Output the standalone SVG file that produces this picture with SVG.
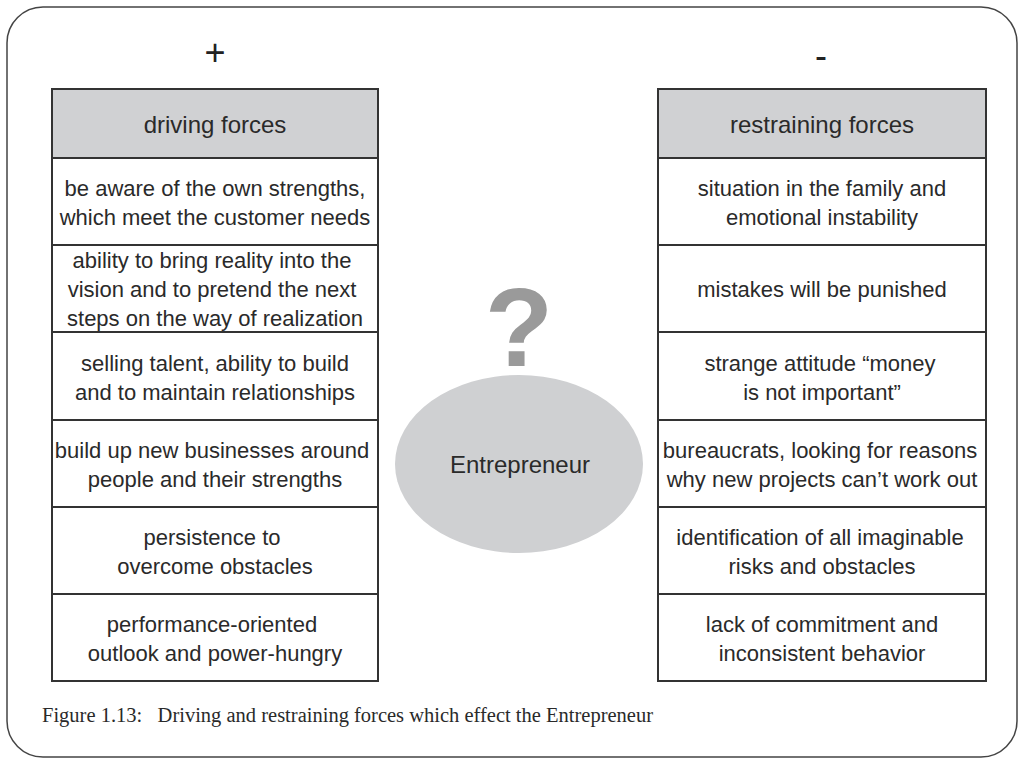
<svg xmlns="http://www.w3.org/2000/svg" width="1024" height="768" viewBox="0 0 1024 768">
<style>
.c{fill:#fff;stroke:#333;stroke-width:2}
.h{fill:#d0d1d3;stroke:#333;stroke-width:2}
text{font-family:"Liberation Sans Narrow","Liberation Sans",Arial,sans-serif;font-size:22px;fill:#2a2a2a;text-anchor:middle}
</style>
<rect x="0" y="0" width="1024" height="768" fill="#fff"/>
<rect x="7" y="7" width="1010" height="750" rx="36" fill="#fff" stroke="#444" stroke-width="1.5"/>
<text x="215" y="65" style="font-size:36px;fill:#222">+</text>
<text x="821" y="68" style="font-size:36px;fill:#222">-</text>
<g id="left">
<rect class="h" x="52" y="89" width="326" height="69"/><text x="215" y="133" style="font-size:24px">driving forces</text>
<rect class="c" x="52" y="158" width="326" height="87"/><text x="215" y="196">be aware of the own strengths,</text><text x="215" y="225">which meet the customer needs</text>
<rect class="c" x="52" y="245" width="326" height="87"/><text x="212" y="268">ability to bring reality into the</text><text x="212" y="297">vision and to pretend the next</text><text x="215" y="326">steps on the way of realization</text>
<rect class="c" x="52" y="332" width="326" height="88"/><text x="215" y="371">selling talent, ability to build</text><text x="215" y="400">and to maintain relationships</text>
<rect class="c" x="52" y="420" width="326" height="87"/><text x="212" y="458">build up new businesses around</text><text x="215" y="487">people and their strengths</text>
<rect class="c" x="52" y="507" width="326" height="87"/><text x="212" y="545">persistence to</text><text x="215" y="574">overcome obstacles</text>
<rect class="c" x="52" y="594" width="326" height="87"/><text x="212" y="632">performance-oriented</text><text x="215" y="661">outlook and power-hungry</text>
</g>
<g id="right">
<rect class="h" x="658" y="89" width="328" height="69"/><text x="822" y="133" style="font-size:24px">restraining forces</text>
<rect class="c" x="658" y="158" width="328" height="87"/><text x="822" y="196">situation in the family and</text><text x="822" y="225">emotional instability</text>
<rect class="c" x="658" y="245" width="328" height="87"/><text x="822" y="297">mistakes will be punished</text>
<rect class="c" x="658" y="332" width="328" height="88"/><text x="820" y="371">strange attitude “money</text><text x="822" y="400">is not important”</text>
<rect class="c" x="658" y="420" width="328" height="87"/><text x="820" y="458">bureaucrats, looking for reasons</text><text x="822" y="487">why new projects can’t work out</text>
<rect class="c" x="658" y="507" width="328" height="87"/><text x="820" y="545">identification of all imaginable</text><text x="822" y="574">risks and obstacles</text>
<rect class="c" x="658" y="594" width="328" height="87"/><text x="822" y="632">lack of commitment and</text><text x="822" y="661">inconsistent behavior</text>
</g>
<g id="center">
<text x="519" y="366" style="font-family:'Liberation Sans',sans-serif;font-size:112px;font-weight:bold;fill:#9a9a9a">?</text>
<ellipse cx="519" cy="464" rx="124" ry="89" fill="#cfd0d2"/>
<text x="520" y="473" style="font-size:24px">Entrepreneur</text>
</g>
<g id="connectors"/>
<text x="42" y="722" xml:space="preserve" style="font-family:'Liberation Serif',serif;font-size:20.5px;text-anchor:start">Figure 1.13:   Driving and restraining forces which effect the Entrepreneur</text>
</svg>
